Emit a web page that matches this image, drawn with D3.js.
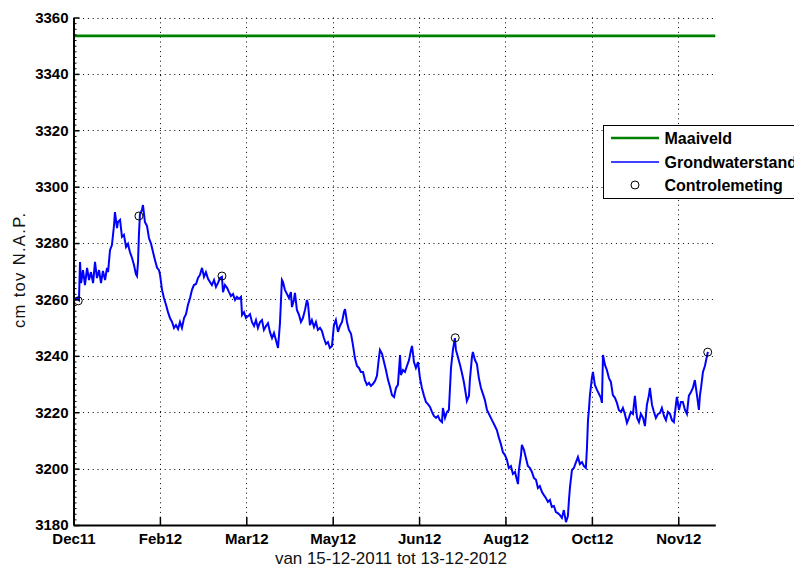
<!DOCTYPE html>
<html>
<head>
<meta charset="utf-8">
<script src="https://cdn.jsdelivr.net/npm/d3@7"></script>
<style>
  html, body { margin: 0; padding: 0; background: #fff; }
  svg { display: block; }
  text { font-family: "Liberation Sans", Arial, Helvetica, sans-serif; }
</style>
</head>
<body>
<svg id="chart" width="794" height="567"></svg>
<script>
// ---------- data ----------
const startDate = "2011-12-15";
const endDate = "2012-12-13";

// days since 15-12-2011
const days = [
  0.9, 2.0, 3.1, 3.7, 4.3, 5.4, 6.5, 7.7, 8.8, 9.9,
  11.1, 12.2, 13.3, 14.5, 15.6, 16.7, 17.9, 19.0, 19.6, 20.7,
  21.8, 23.0, 23.5, 24.7, 25.2, 26.4, 27.5, 28.6, 29.8, 30.9,
  32.0, 33.2, 34.3, 35.4, 36.0, 36.6, 37.1, 37.7, 38.8, 39.4,
  40.5, 41.7, 42.8, 44.0, 45.1, 46.2, 47.4, 48.5, 49.1, 50.2,
  51.3, 52.5, 53.6, 54.7, 55.9, 57.0, 58.1, 59.3, 60.4, 61.5,
  62.7, 63.8, 64.9, 66.1, 67.2, 68.3, 69.5, 70.6, 71.7, 72.9,
  74.0, 75.1, 76.3, 77.4, 78.5, 79.7, 80.8, 81.9, 83.1, 84.2,
  84.8, 85.9, 87.1, 88.2, 89.3, 90.5, 91.6, 92.7, 93.9, 95.0,
  95.6, 96.7, 97.8, 99.0, 100.1, 101.2, 102.4, 103.5, 104.6, 105.8,
  106.9, 108.0, 109.2, 110.3, 111.4, 112.6, 113.7, 114.8, 116.0, 117.1,
  118.2, 118.8, 119.9, 121.1, 122.2, 123.3, 123.9, 125.0, 125.6, 126.7,
  127.9, 129.0, 130.1, 131.3, 132.4, 133.0, 134.1, 135.2, 136.4, 137.5,
  138.6, 139.8, 140.9, 142.0, 143.2, 144.3, 145.4, 146.6, 147.7, 148.8,
  150.0, 151.1, 152.3, 153.4, 154.0, 155.1, 156.2, 157.4, 158.5, 159.6,
  160.8, 161.9, 163.0, 164.2, 165.3, 166.4, 167.6, 168.7, 169.8, 171.0,
  172.1, 173.2, 173.8, 175.0, 176.1, 177.2, 178.4, 179.5, 180.6, 181.8,
  182.9, 184.0, 185.2, 185.7, 186.9, 188.0, 189.1, 190.3, 191.4, 192.0,
  193.1, 194.2, 195.4, 196.5, 197.6, 198.8, 199.9, 201.0, 202.2, 203.3,
  204.4, 205.6, 206.7, 207.8, 209.0, 209.5, 210.7, 211.8, 212.9, 214.1,
  215.2, 216.3, 216.9, 218.0, 219.2, 220.3, 221.4, 222.6, 223.1, 224.3,
  224.8, 226.0, 226.5, 227.7, 228.8, 229.9, 231.1, 232.2, 233.3, 234.5,
  235.6, 236.7, 237.9, 239.0, 240.1, 241.3, 242.4, 243.5, 244.7, 245.8,
  246.9, 248.1, 249.2, 250.4, 251.5, 252.1, 252.6, 253.8, 254.3, 255.5,
  256.6, 257.7, 258.9, 260.0, 261.1, 262.3, 263.4, 264.5, 265.7, 266.8,
  267.9, 269.1, 270.2, 271.3, 272.5, 273.6, 274.7, 275.9, 277.0, 278.1,
  279.3, 280.4, 281.0, 281.6, 282.7, 283.8, 285.0, 286.1, 287.2, 288.4,
  289.5, 290.6, 291.2, 291.8, 292.3, 292.9, 294.0, 294.6, 295.7, 296.9,
  298.0, 299.1, 299.7, 300.3, 301.4, 302.5, 303.7, 304.8, 305.9, 307.1,
  308.2, 309.3, 310.5, 311.6, 312.7, 313.9, 315.0, 316.1, 317.3, 318.4,
  319.6, 320.7, 321.8, 323.0, 324.1, 325.2, 326.4, 326.9, 328.1, 329.2,
  330.3, 331.5, 332.6, 333.7, 334.9, 336.0, 337.1, 338.3, 339.4, 340.5,
  341.7, 342.2, 343.4, 344.5, 345.6, 346.8, 347.9, 349.0, 350.2, 351.3,
  352.4, 353.6, 354.7, 355.3, 355.9, 357.0, 358.1, 359.3, 359.8
];

// Grondwaterstand (cm tov N.A.P.)
const levels = [
  3259.8, 3260.5, 3259.8, 3273.3, 3265.8, 3270.4, 3265.1, 3271.2, 3266.9, 3269.7,
  3265.8, 3273.3, 3267.6, 3270.4, 3265.8, 3270.1, 3266.9, 3271.2, 3269.7, 3277.5,
  3279.3, 3286.4, 3291.0, 3285.3, 3287.5, 3288.2, 3282.2, 3282.9, 3278.6, 3279.7,
  3276.8, 3274.7, 3272.2, 3269.0, 3268.3, 3273.3, 3282.9, 3290.3, 3291.7, 3293.5,
  3287.5, 3286.0, 3281.8, 3279.7, 3276.8, 3274.0, 3271.2, 3270.4, 3268.7, 3263.4,
  3260.5, 3258.0, 3255.5, 3253.4, 3252.0, 3249.9, 3250.9, 3249.5, 3252.0, 3249.9,
  3253.4, 3254.8, 3258.0, 3260.5, 3263.4, 3265.1, 3265.5, 3267.6, 3268.7, 3271.2,
  3268.0, 3269.7, 3267.3, 3266.2, 3265.1, 3266.9, 3264.4, 3265.8, 3267.6, 3268.0,
  3262.6, 3265.1, 3264.1, 3262.6, 3261.2, 3261.9, 3259.8, 3260.9, 3260.2, 3260.9,
  3254.5, 3255.5, 3253.4, 3254.1, 3254.8, 3252.0, 3250.6, 3252.7, 3249.9, 3252.0,
  3252.7, 3249.2, 3250.6, 3251.6, 3248.5, 3246.3, 3248.1, 3245.6, 3242.8, 3251.6,
  3266.9, 3266.2, 3263.4, 3261.9, 3260.5, 3262.6, 3257.3, 3259.8, 3262.3, 3256.3,
  3254.5, 3252.0, 3253.4, 3256.3, 3259.8, 3258.4, 3250.9, 3252.7, 3250.2, 3252.0,
  3249.2, 3249.9, 3248.8, 3246.3, 3244.2, 3244.9, 3242.8, 3243.5, 3250.9, 3252.7,
  3248.5, 3250.6, 3252.0, 3255.5, 3256.6, 3252.0, 3249.2, 3247.8, 3243.8, 3239.2,
  3236.4, 3235.7, 3234.3, 3234.3, 3231.4, 3229.7, 3230.4, 3229.3, 3230.0, 3231.1,
  3232.9, 3239.2, 3242.1, 3240.7, 3237.8, 3235.0, 3231.4, 3229.0, 3226.1, 3225.4,
  3228.6, 3229.7, 3240.3, 3233.2, 3235.0, 3234.3, 3236.4, 3238.5, 3242.1, 3243.5,
  3237.8, 3235.7, 3237.8, 3232.1, 3228.6, 3225.8, 3223.6, 3222.9, 3221.9, 3220.1,
  3218.7, 3218.0, 3218.7, 3217.2, 3216.5, 3221.5, 3218.0, 3220.1, 3220.8, 3235.7,
  3242.1, 3246.3, 3242.1, 3239.6, 3236.8, 3233.9, 3230.7, 3226.1, 3224.0, 3225.8,
  3231.4, 3239.6, 3241.4, 3238.5, 3237.1, 3232.1, 3228.6, 3226.5, 3224.4, 3220.8,
  3219.4, 3218.0, 3216.5, 3215.1, 3213.7, 3210.9, 3208.7, 3205.9, 3204.8, 3203.1,
  3200.2, 3200.9, 3198.1, 3198.8, 3196.0, 3194.5, 3199.5, 3204.8, 3208.4, 3206.6,
  3203.8, 3200.9, 3200.2, 3198.8, 3196.7, 3196.0, 3193.1, 3193.8, 3191.7, 3190.6,
  3189.6, 3188.2, 3188.9, 3186.4, 3186.7, 3184.6, 3184.2, 3183.5, 3182.5, 3185.3,
  3181.0, 3183.2, 3188.9, 3193.5, 3199.5, 3200.2, 3202.3, 3204.1, 3201.6, 3202.3,
  3200.9, 3200.2, 3207.3, 3217.2, 3220.8, 3226.1, 3232.1, 3234.3, 3229.7, 3227.9,
  3226.5, 3225.1, 3223.3, 3240.3, 3236.8, 3235.0, 3232.1, 3230.7, 3226.1, 3225.1,
  3223.3, 3220.8, 3220.1, 3221.5, 3219.4, 3216.2, 3218.0, 3220.1, 3219.4, 3225.8,
  3218.0, 3216.5, 3219.4, 3218.0, 3215.1, 3222.6, 3226.1, 3228.6, 3222.6, 3220.1,
  3218.0, 3219.4, 3219.7, 3221.5, 3218.7, 3217.2, 3220.1, 3219.4, 3217.2, 3216.5,
  3222.9, 3225.4, 3220.8, 3223.6, 3223.6, 3220.8, 3219.4, 3225.8, 3227.2, 3228.6,
  3231.4, 3226.1, 3220.8, 3226.1, 3228.6, 3234.3, 3236.4, 3240.0, 3241.4
];

// Controlemeting
const controlDays = [2.7, 37.1, 84.2, 216.5, 359.7];
const controlLevels = [3259.5, 3289.6, 3268.3, 3246.4, 3241.3];

// Maaiveld
const maaiveld = 3353.5;

// axes
const yTicks = [3180, 3200, 3220, 3240, 3260, 3280, 3300, 3320, 3340, 3360];
const xTickDays = [0, 49, 98, 147, 196, 245, 294, 343];
const xTickLabels = ["Dec11", "Feb12", "Mar12", "May12", "Jun12", "Aug12", "Oct12", "Nov12"];
const legendLabels = ["Maaiveld", "Grondwaterstand", "Controlemeting"];
const xTitle = "van 15-12-2011 tot 13-12-2012";
const yTitle = "cm tov N.A.P.";

// ---------- drawing ----------
const svg = d3.select("#chart");
const t0 = new Date(startDate + "T00:00:00Z");
const toDate = d => new Date(t0.getTime() + d * 86400000);

const plot = { left: 73.5, right: 715.3, top: 17.5, bottom: 525 };
const x = d3.scaleUtc().domain([t0, new Date(endDate + "T00:00:00Z")]).range([plot.left, plot.right]);
const y = d3.scaleLinear().domain([3180, 3360]).range([plot.bottom, plot.top]);

svg.append("rect").attr("width", 794).attr("height", 567).attr("fill", "#fff");

const grid = svg.append("g").attr("stroke", "#000").attr("stroke-width", 1)
  .attr("stroke-dasharray", "1,3.8").attr("fill", "none");
yTicks.filter(v => v !== 3180).forEach(v => {
  grid.append("line").attr("x1", plot.left).attr("x2", plot.right)
    .attr("y1", Math.round(y(v)) + 0.5).attr("y2", Math.round(y(v)) + 0.5);
});
xTickDays.filter(d => d !== 0).forEach(d => {
  const xx = Math.round(x(toDate(d))) + 0.5;
  grid.append("line").attr("x1", xx).attr("x2", xx).attr("y1", plot.top).attr("y2", plot.bottom);
});

// Maaiveld line
svg.append("line")
  .attr("x1", x(toDate(0))).attr("x2", plot.right)
  .attr("y1", y(maaiveld)).attr("y2", y(maaiveld))
  .attr("stroke", "#008000").attr("stroke-width", 2.6);

// groundwater line
const series = days.map((d, i) => ({ date: toDate(d), v: levels[i] }));
svg.append("path").datum(series)
  .attr("fill", "none").attr("stroke", "#0000ff").attr("stroke-width", 2)
  .attr("stroke-linejoin", "miter")
  .attr("d", d3.line().x(p => x(p.date)).y(p => y(p.v)));

// control points
svg.append("g").selectAll("circle").data(controlDays).join("circle")
  .attr("cx", (d) => x(toDate(d)))
  .attr("cy", (d, i) => y(controlLevels[i]))
  .attr("r", 4).attr("fill", "none").attr("stroke", "#000").attr("stroke-width", 1);

// y axis
const yAxis = svg.append("g").attr("transform", `translate(${plot.left},0)`)
  .call(d3.axisLeft(y).tickValues(yTicks).tickSize(-6).tickSizeOuter(0).tickPadding(5).tickFormat(d3.format("d")));
// minor ticks
const minor = d3.range(3182, 3360, 2).filter(v => v % 20 !== 0);
svg.append("g").attr("transform", `translate(${plot.left},0)`)
  .call(d3.axisLeft(y).tickValues(minor).tickSize(-3).tickSizeOuter(0).tickFormat(""))
  .call(g => g.select(".domain").remove());

// x axis
const xAxis = svg.append("g").attr("transform", `translate(0,${plot.bottom})`)
  .call(d3.axisBottom(x).tickValues(xTickDays.map(toDate)).tickSize(-8).tickSizeOuter(0).tickPadding(8)
    .tickFormat((d, i) => xTickLabels[i]));

[yAxis, xAxis].forEach(g => {
  g.select(".domain").attr("stroke", "#000").attr("stroke-width", 2);
  g.selectAll(".tick line").attr("stroke", "#000").attr("stroke-width", 1.5);
  g.selectAll(".tick text").attr("fill", "#000").style("font-size", "15px").style("font-weight", "bold")
    .style("font-family", "'Liberation Sans', Arial, sans-serif");
});
svg.selectAll("g g.tick line").attr("stroke", "#000");

// axis titles
svg.append("text").attr("x", 391).attr("y", 564)
  .attr("text-anchor", "middle").style("font-size", "17px").attr("fill", "#111")
  .attr("textLength", 232).attr("lengthAdjust", "spacing").text(xTitle);
svg.append("text").attr("transform", `translate(25,270.5) rotate(-90)`)
  .attr("text-anchor", "middle").style("font-size", "16.5px").attr("fill", "#111")
  .attr("textLength", 115).attr("lengthAdjust", "spacing").text(yTitle);

// legend
const lg = svg.append("g");
lg.append("rect").attr("x", 603.5).attr("y", 125.5).attr("width", 200).attr("height", 73)
  .attr("fill", "#fff").attr("stroke", "#000").attr("stroke-width", 1);
const rows = [138, 162, 185];
lg.append("line").attr("x1", 611).attr("x2", 659).attr("y1", rows[0]).attr("y2", rows[0])
  .attr("stroke", "#008000").attr("stroke-width", 2.6);
lg.append("line").attr("x1", 611).attr("x2", 659).attr("y1", rows[1]).attr("y2", rows[1])
  .attr("stroke", "#0000ff").attr("stroke-width", 1.5);
lg.append("circle").attr("cx", 635).attr("cy", rows[2]).attr("r", 4)
  .attr("fill", "none").attr("stroke", "#000").attr("stroke-width", 1);
lg.selectAll("text.lab").data(legendLabels).join("text").attr("class", "lab")
  .attr("x", 664.5).attr("y", (d, i) => rows[i] + 6)
  .style("font-size", "16px").style("font-weight", "bold").attr("fill", "#000")
  .text(d => d);
</script>
</body>
</html>
